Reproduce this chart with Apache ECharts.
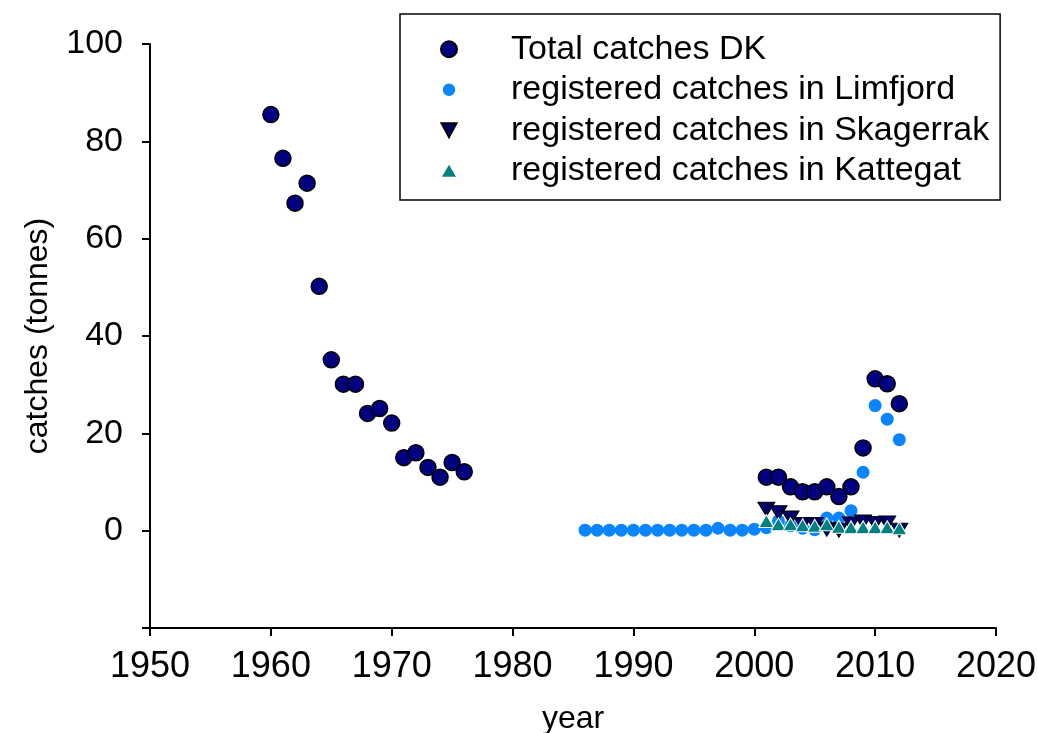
<!DOCTYPE html>
<html>
<head>
<meta charset="utf-8">
<script src="https://cdn.jsdelivr.net/npm/echarts@6/dist/echarts.min.js"></script>
<style>html,body{margin:0;padding:0;background:#fff}#c{width:1038px;height:733px}</style>
</head>
<body>
<div id="c"></div>
<script>
var seriesNames = ['Total catches DK', 'registered catches in Limfjord', 'registered catches in Skagerrak', 'registered catches in Kattegat'];

var totalYears = [1960,1961,1962,1963,1964,1965,1966,1967,1968,1969,1970,1971,1972,1973,1974,1975,1976,
                  2001,2002,2003,2004,2005,2006,2007,2008,2009,2010,2011,2012];
var totalValues = [85.5,76.5,67.3,71.4,50.2,35.1,30.1,30.1,24.1,25.1,22.1,15.0,16.0,13.0,11.0,14.0,12.1,
                   11.0,11.0,9.0,8.0,8.0,9.0,7.0,9.0,17.0,31.2,30.2,26.1];

var limfjordYears = [1986,1987,1988,1989,1990,1991,1992,1993,1994,1995,1996,1997,1998,1999,2000,
                     2001,2002,2003,2004,2005,2006,2007,2008,2009,2010,2011,2012];
var limfjordValues = [0.1,0.1,0.1,0.1,0.1,0.1,0.1,0.1,0.1,0.1,0.1,0.5,0.1,0.1,0.3,
                      0.6,2.0,1.0,0.5,0.2,2.6,2.6,4.1,12.0,25.7,22.9,18.7];

var skagerrakYears = [2001,2002,2003,2004,2005,2006,2007,2008,2009,2010,2011,2012];
var skagerrakValues = [4.4,3.7,2.6,1.3,1.3,0.3,0.1,1.4,1.8,1.5,1.6,0.1];

var kattegatYears = [2001,2002,2003,2004,2005,2006,2007,2008,2009,2010,2011,2012];
var kattegatValues = [2.0,1.3,1.3,1.1,1.0,1.3,0.8,0.7,0.7,0.7,0.7,0.5];

var xTicks = [1950,1960,1970,1980,1990,2000,2010,2020];
var yTicks = [-20,0,20,40,60,80,100];

function pairs(xs, ys) { return xs.map(function (x, i) { return [x, ys[i]]; }); }

var FONT = '"Liberation Sans", Arial, sans-serif';
var DOWN_TRI = 'path://M0,0 L10,0 L5,9 Z';

var chart = echarts.init(document.getElementById('c'), null, { renderer: 'canvas' });
chart.setOption({
  animation: false,
  backgroundColor: '#fff',
  grid: { left: 150, right: 42, top: 44, bottom: 105, containLabel: false, outerBoundsMode: 'none' },
  legend: {
    left: 400, top: 14,
    orient: 'vertical',
    padding: [15, 11, 9, 40],
    itemGap: 0,
    itemWidth: 30, itemHeight: 16,
    borderColor: '#000', borderWidth: 1.5,
    backgroundColor: '#fff',
    textStyle: { fontFamily: FONT, fontSize: 34, color: '#000', lineHeight: 40.5, padding: [0, 0, 0, 42] },
    data: [
      { name: seriesNames[0], icon: 'path://M0,0 M16,16 M8,0 A8,8 0 1 1 7.99,0 Z' },
      { name: seriesNames[1], icon: 'path://M0,0 M16,16 M8,1.8 A6.2,6.2 0 1 1 7.99,1.8 Z' },
      { name: seriesNames[2], icon: 'path://M0,0 M16,16 M0.5,1 L15.5,1 L8,15 Z' },
      { name: seriesNames[3], icon: 'path://M0,0 M16,16 M8,2 L15,14 L1,14 Z', itemStyle: { borderWidth: 0 } }
    ]
  },
  xAxis: {
    type: 'value', min: xTicks[0], max: xTicks[xTicks.length - 1], interval: 10,
    name: 'year', nameLocation: 'middle', nameGap: 75,
    nameTextStyle: { fontFamily: FONT, fontSize: 32, color: '#000' },
    axisLine: { onZero: false, lineStyle: { color: '#000', width: 2 } },
    axisTick: { length: 8, lineStyle: { color: '#000', width: 2 } },
    axisLabel: { margin: 21, fontFamily: FONT, fontSize: 36, color: '#000',
      formatter: function (v) { return String(v); } },
    splitLine: { show: false }
  },
  yAxis: {
    type: 'value', min: yTicks[0], max: yTicks[yTicks.length - 1], interval: 20,
    name: 'catches (tonnes)', nameLocation: 'middle', nameGap: 96, nameRotate: 90,
    nameTextStyle: { fontFamily: FONT, fontSize: 32, color: '#000' },
    axisLine: { show: true, onZero: false, lineStyle: { color: '#000', width: 2 } },
    axisTick: { show: true, length: 8, lineStyle: { color: '#000', width: 2 } },
    axisLabel: {
      margin: 27, fontFamily: FONT, fontSize: 34, color: '#000',
      formatter: function (v) { return v < 0 ? '' : String(v); }
    },
    splitLine: { show: false }
  },
  series: [
    {
      name: seriesNames[0], type: 'scatter', symbol: 'circle', symbolSize: 16,
      itemStyle: { color: '#000080', borderColor: '#000', borderWidth: 1.5, opacity: 1 },
      data: pairs(totalYears, totalValues), z: 2
    },
    {
      name: seriesNames[1], type: 'scatter', symbol: 'circle', symbolSize: 13,
      itemStyle: { color: '#0A84FF', opacity: 1 },
      data: pairs(limfjordYears, limfjordValues), z: 3
    },
    {
      name: seriesNames[2], type: 'scatter', symbol: DOWN_TRI, symbolSize: [17, 14], symbolKeepAspect: false,
      itemStyle: { color: '#000066', borderColor: '#000', borderWidth: 1, opacity: 1 },
      data: pairs(skagerrakYears, skagerrakValues), z: 4
    },
    {
      name: seriesNames[3], type: 'scatter', symbol: 'triangle', symbolSize: [15, 13],
      itemStyle: { color: '#008080', borderColor: '#fff', borderWidth: 1, opacity: 1 },
      data: pairs(kattegatYears, kattegatValues), z: 5
    }
  ]
});
</script>
</body>
</html>
